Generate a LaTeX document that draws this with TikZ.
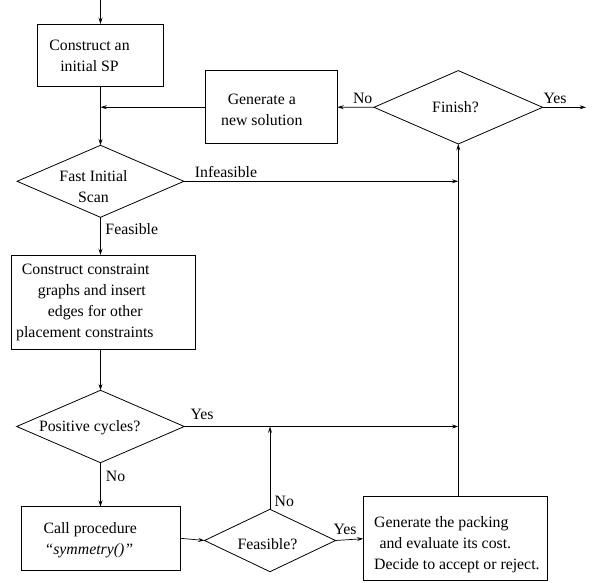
\documentclass[tikz,border=0pt]{standalone}
\usepackage{fontspec}
\setmainfont{Liberation Serif}
\usetikzlibrary{shapes.geometric,arrows.meta}
\begin{document}
\begin{tikzpicture}[x=1pt,y=-1pt,
  every node/.style={font=\fontsize{15.8}{21}\selectfont},
  boxnode/.style={draw,line width=0.8pt,inner sep=0pt,outer sep=0pt},
  dianode/.style={draw,diamond,line width=0.8pt,inner sep=0pt,outer sep=0pt},
  txt/.style={inner sep=0pt,align=center},
  ltxt/.style={inner sep=0pt,align=left,anchor=west},
  conn/.style={line width=0.7pt,-{Stealth[length=6.5pt,width=4pt,inset=2.5pt]}},
  plain/.style={line width=0.7pt}]
\useasboundingbox (0,0) rectangle (595,583);
% boxes
\node[boxnode,minimum width=126pt,minimum height=62pt] (b1) at (100.5,55) {};
\node[txt] (b1t) at (89.5,56) {Construct an\\initial SP};
\node[boxnode,minimum width=131.5pt,minimum height=72.8pt] (gen) at (271.6,107.2) {};
\node[txt] (gent) at (261.8,110) {Generate a\\new solution};
\node[dianode,minimum width=168.6pt,minimum height=73.4pt] (fin) at (458.3,107.3) {};
\node[txt] (fint) at (455.5,107) {Finish?};
\node[dianode,minimum width=166.8pt,minimum height=72pt] (fis) at (100.5,181.3) {};
\node[txt] (fist) at (93.5,186.5) {Fast Initial\\Scan};
\node[boxnode,minimum width=183.6pt,minimum height=94.3pt] (cc) at (103.5,302.2) {};
\node[ltxt] (cct) at (16,302.8) {\hspace*{5.7pt}Construct constraint\\\hspace*{21.7pt}graphs and insert\\\hspace*{31.7pt}edges for other\\placement constraints};
\node[dianode,minimum width=167.6pt,minimum height=72.4pt] (pc) at (100.5,426.5) {};
\node[txt] (pct) at (89.7,428) {Positive cycles?};
\node[boxnode,minimum width=159pt,minimum height=63.3pt] (call) at (101.2,538.3) {};
\node[ltxt] (callt) at (43.3,540) {Call procedure\\\hspace*{1pt}\textit{``symmetry()''}};
\node[dianode,minimum width=131pt,minimum height=62.4pt] (feas) at (270,540.5) {};
\node[txt] (feast) at (267.5,544) {Feasible?};
\node[boxnode,minimum width=184.4pt,minimum height=84pt] (pack) at (455.5,538.7) {};
\node[ltxt] (packt) at (374,544.5) {Generate the packing\\\hspace*{5.3pt}and evaluate its cost.\\Decide to accept or reject.};
% free ends
\coordinate (top) at (100.5,0);
\coordinate (yesend) at (586,107.3);
% connectors
\draw[conn] (top) -- (b1.north);
\draw[conn] (b1.south) -- (fis.north);
\draw[conn] (gen.west) -- (gen.west -| b1.south);
\draw[conn] (fin.west) -- (gen.east);
\draw[conn] (fin.east) -- (yesend);
\draw[conn] (fis.east) -- (fis.east -| fin.south);
\draw[conn] (fis.south) -- (fis.south |- cc.north);
\draw[conn] (cc.south -| pc.north) -- (pc.north);
\draw[conn] (pc.east) -- (pc.east -| fin.south);
\draw[conn] (pc.south) -- (call.north -| pc.south);
\draw[conn] (call.east) -- (feas.west);
\draw[conn] (feas.north) -- (feas.north |- pc.east);
\draw[conn] (feas.east) -- (pack.west);
\draw[conn] (fin.south |- pack.north) -- (fin.south);
% labels
\node[txt] (lno1) at (362.7,98) {No};
\node[txt] (lyes1) at (555,98) {Yes};
\node[txt] (linf) at (226,171.7) {Infeasible};
\node[txt] (lfeas) at (131.8,229) {Feasible};
\node[txt] (lyes2) at (202,414) {Yes};
\node[txt] (lno2) at (115.5,476) {No};
\node[txt] (lno3) at (284.3,501.7) {No};
\node[txt] (lyes3) at (345,529.3) {Yes};
\end{tikzpicture}
\end{document}
